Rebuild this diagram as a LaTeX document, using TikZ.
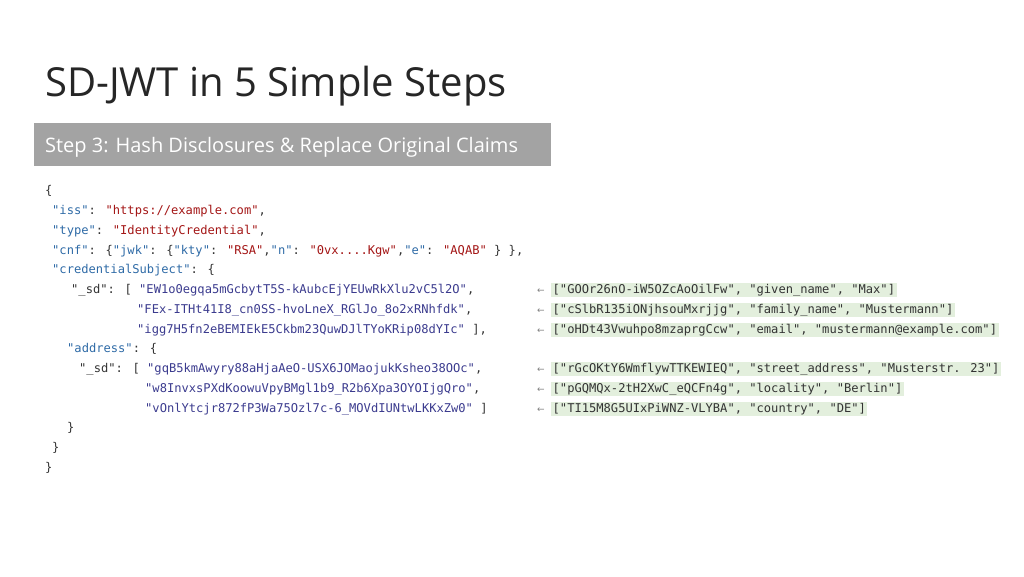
\documentclass[tikz,border=0pt]{standalone}
\usepackage{fontspec}
\setmainfont{Open Sans}
\newfontfamily\codefont{DejaVu Sans Mono}
\newfontfamily\arrfont{DejaVu Sans}
\definecolor{keyc}{HTML}{2E6AA6}
\definecolor{strc}{HTML}{A31515}
\definecolor{hashc}{HTML}{3B3B8E}
\definecolor{txtc}{HTML}{333333}
\definecolor{discbg}{HTML}{E3EFDD}
\definecolor{barc}{HTML}{A3A3A3}
\newcommand{\K}[1]{\textcolor{keyc}{#1}}
\newcommand{\Sv}[1]{\textcolor{strc}{#1}}
\newcommand{\Hh}[1]{\textcolor{hashc}{#1}}
\begin{document}
\begin{tikzpicture}[x=1pt,y=-1pt,
  code/.style={anchor=base west,inner sep=0pt,font=\codefont\fontsize{12.1}{12}\selectfont,text=txtc},
  disc/.style={anchor=base west,inner xsep=1.5pt,inner ysep=0pt,text height=10pt,text depth=4pt,fill=discbg,font=\codefont\fontsize{12.1}{12}\selectfont,text=txtc},
  arr/.style={anchor=base west,inner sep=0pt,font=\arrfont\fontsize{9}{10}\selectfont,text=gray}]
\useasboundingbox (0,0) rectangle (1024,576);
\node[anchor=base west,inner sep=0pt,font=\fontsize{40}{44}\selectfont,text=black!85] (title) at (45,96) {SD-JWT in 5 Simple Steps};
\fill[barc] (34,123) rectangle (551,166);
\node[anchor=base west,inner sep=0pt,font=\fontsize{20}{22}\selectfont,text=white] (step) at (45,152) {Step 3: Hash Disclosures \& Replace Original Claims};
\node[code] (l1) at (45,194) {\{};
\node[code] (l2) at (52,214) {\K{"iss"}: \Sv{"https://example.com"},};
\node[code] (l3) at (52,234) {\K{"type"}: \Sv{"IdentityCredential"},};
\node[code] (l4) at (52,254) {\K{"cnf"}: \{\K{"jwk"}: \{\K{"kty"}: \Sv{"RSA"},\K{"n"}: \Sv{"0vx....Kgw"},\K{"e"}: \Sv{"AQAB"} \} \},};
\node[code] (l5) at (52,273) {\K{"credentialSubject"}: \{};
\node[code] (l6) at (71,293) {"\_sd": [ \Hh{"EW1o0egqa5mGcbytT5S-kAubcEjYEUwRkXlu2vC5l2O"},};
\node[code] (l7) at (137,313) {\Hh{"FEx-ITHt41I8\_cn0SS-hvoLneX\_RGlJo\_8o2xRNhfdk"},};
\node[code] (l8) at (137,333) {\Hh{"igg7H5fn2eBEMIEkE5Ckbm23QuwDJlTYoKRip08dYIc"} ],};
\node[code] (l9) at (67,352) {\K{"address"}: \{};
\node[code] (l10) at (79,372) {"\_sd": [ \Hh{"gqB5kmAwyry88aHjaAeO-USX6JOMaojukKsheo38OOc"},};
\node[code] (l11) at (145,392) {\Hh{"w8InvxsPXdKoowuVpyBMgl1b9\_R2b6Xpa3OYOIjgQro"},};
\node[code] (l12) at (145,412) {\Hh{"vOnlYtcjr872fP3Wa75Ozl7c-6\_MOVdIUNtwLKKxZw0"} ]};
\node[code] (l13) at (67,431) {\}};
\node[code] (l14) at (52,451) {\}};
\node[code] (l15) at (45,471) {\}};
\foreach \y/\t [count=\i] in {
 293/{["GOOr26nO-iW5OZcAoOilFw", "given\_name", "Max"]},
 313/{["cSlbR135iONjhsouMxrjjg", "family\_name", "Mustermann"]},
 333/{["oHDt43Vwuhpo8mzaprgCcw", "email", "mustermann@example.com"]},
 372/{["rGcOKtY6WmflywTTKEWIEQ", "street\_address", "Musterstr. 23"]},
 392/{["pGQMQx-2tH2XwC\_eQCFn4g", "locality", "Berlin"]},
 412/{["TI15M8G5UIxPiWNZ-VLYBA", "country", "DE"]}}{
 \node[arr] (a\i) at (537,\y) {←};
 \node[disc] (d\i) at (551,\y) {\t};
}
\end{tikzpicture}
\end{document}
